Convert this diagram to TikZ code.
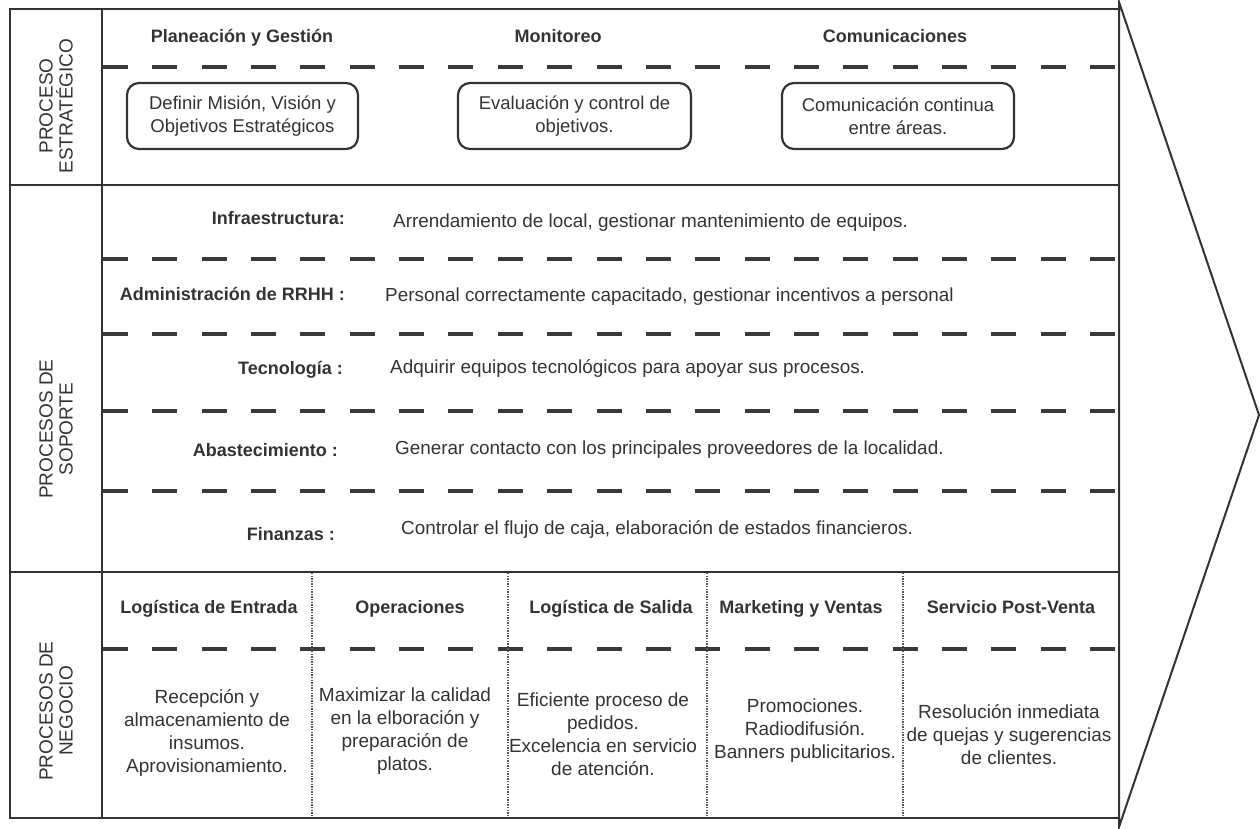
\documentclass[tikz,border=0pt]{standalone}
\usepackage{fontspec}
\setmainfont{Liberation Sans}
\definecolor{ink}{HTML}{333333}
\definecolor{dashgray}{HTML}{3A3A3A}
\definecolor{dotgray}{HTML}{555555}
\tikzset{
  frame/.style={draw=ink, line width=2.6pt},
  arrowhead/.style={draw=ink, line width=2pt, line join=miter},
  sepdash/.style={draw=dashgray, line width=3.5pt, dash pattern=on 25pt off 24.35pt},
  coldots/.style={draw=dotgray, line width=2.4pt, dash pattern=on 1.3pt off 1.3pt},
  head/.style={font=\bfseries\fontsize{18}{22}\selectfont, text=ink, inner sep=0pt,
               text height=12.9pt, text depth=0pt},
  body/.style={font=\fontsize{19}{23}\selectfont, text=ink, inner sep=0pt, align=center},
  boxtext/.style={font=\fontsize{18.5}{23}\selectfont, text=ink, inner sep=0pt, align=center},
  rowtext/.style={font=\fontsize{18.9}{23}\selectfont, text=ink, inner sep=0pt,
               text height=13.5pt, text depth=0pt, anchor=west},
  rowlabel/.style={head, anchor=east},
  sidelabel/.style={font=\fontsize{19}{20}\selectfont, text=ink, inner sep=0pt,
               align=center, rotate=90},
  goalbox/.style={boxtext, draw=ink, line width=2.2pt, rounded corners=12pt,
               minimum height=66pt},
}
\begin{document}
\begin{tikzpicture}[x=1pt, y=-1pt]
  \useasboundingbox (0,0) rectangle (1260,828);

  % frame corners and section limits
  \coordinate (tl) at (10,9);
  \coordinate (br) at (1119,818);
  \coordinate (ctop) at (102,9);
  \coordinate (cbot) at (102,818);
  \coordinate (s1l) at (10,185);
  \coordinate (s1r) at (1119,185);
  \coordinate (s2l) at (10,572);
  \coordinate (s2r) at (1119,572);

  % chevron on the right
  \coordinate (tipTop) at (1119,2);
  \coordinate (tip) at (1259,415);
  \coordinate (tipBot) at (1119,827);
  \draw[arrowhead] (tipTop) -- (tip) -- (tipBot) -- cycle;

  % outer frame and section rules
  \draw[frame] (tl) rectangle (br);
  \draw[frame] (ctop) -- (cbot);
  \draw[frame] (s1l) -- (s1r);
  \draw[frame] (s2l) -- (s2r);

  % dashed separators
  \foreach \yy/\nm in {67/a, 259/b, 334/c, 411/d, 491/e, 649/f} {
    \coordinate (dl\nm) at (103,\yy);
    \coordinate (dr\nm) at (1117,\yy);
    \draw[sepdash] (dl\nm) -- (dr\nm);
  }

  % dotted column dividers in the business section
  \foreach \xx/\nm in {312/a, 508/b, 707/c, 903/d} {
    \coordinate (vt\nm) at (\xx,573);
    \coordinate (vb\nm) at (\xx,817);
    \draw[coldots] (vt\nm) -- (vb\nm);
  }

  % side labels
  \node[sidelabel] (lstrat) at (56,106) {PROCESO\\ESTRATÉGICO};
  \node[sidelabel] (lsup) at (56,429) {PROCESOS DE\\SOPORTE};
  \node[sidelabel] (lneg) at (56,711) {PROCESOS DE\\NEGOCIO};

  % strategic process
  \node[head] (hplan) at (242,36) {Planeación y Gestión};
  \node[head] (hmon) at (558,36) {Monitoreo};
  \node[head] (hcom) at (895,36) {Comunicaciones};
  \node[goalbox, minimum width=231pt] (gplan) at (242.5,116)
    {Definir Misión, Visión y\\Objetivos Estratégicos};
  \node[goalbox, minimum width=233pt] (gmon) at (574.5,116)
    {Evaluación y control de\\objetivos.};
  \node[goalbox, minimum width=232pt] (gcom) at (898,116)
    {Comunicación continua\\entre áreas.};

  % support processes
  \node[rowlabel] (rinf) at (345,218) {Infraestructura:};
  \node[rowtext] (tinf) at (393,221) {Arrendamiento de local, gestionar mantenimiento de equipos.};
  \node[rowlabel] (rrh) at (345,294) {Administración de RRHH :};
  \node[rowtext] (trh) at (385,295) {Personal correctamente capacitado, gestionar incentivos a personal};
  \node[rowlabel] (rtec) at (343,368) {Tecnología :};
  \node[rowtext] (ttec) at (390,367) {Adquirir equipos tecnológicos para apoyar sus procesos.};
  \node[rowlabel] (rab) at (338,450) {Abastecimiento :};
  \node[rowtext] (tab) at (395,448) {Generar contacto con los principales proveedores de la localidad.};
  \node[rowlabel] (rfin) at (335,534) {Finanzas :};
  \node[rowtext] (tfin) at (401,528) {Controlar el flujo de caja, elaboración de estados financieros.};

  % business processes
  \node[head] (hent) at (209,607) {Logística de Entrada};
  \node[head] (hope) at (410,607) {Operaciones};
  \node[head] (hsal) at (611,607) {Logística de Salida};
  \node[head] (hmkt) at (801,607) {Marketing y Ventas};
  \node[head] (hpv) at (1011,607) {Servicio Post-Venta};

  \node[body] (bent) at (207,733)
    {Recepción y\\almacenamiento de\\insumos.\\Aprovisionamiento.};
  \node[body] (bope) at (405,731.5)
    {Maximizar la calidad\\en la elboración y\\preparación de\\platos.};
  \node[body] (bsal) at (603,734.5)
    {Eficiente proceso de\\pedidos.\\Excelencia en servicio\\de atención.};
  \node[body] (bmkt) at (805,731)
    {Promociones.\\Radiodifusión.\\Banners publicitarios.};
  \node[body] (bpv) at (1009,735)
    {Resolución inmediata\\de quejas y sugerencias\\de clientes.};
\end{tikzpicture}
\end{document}
